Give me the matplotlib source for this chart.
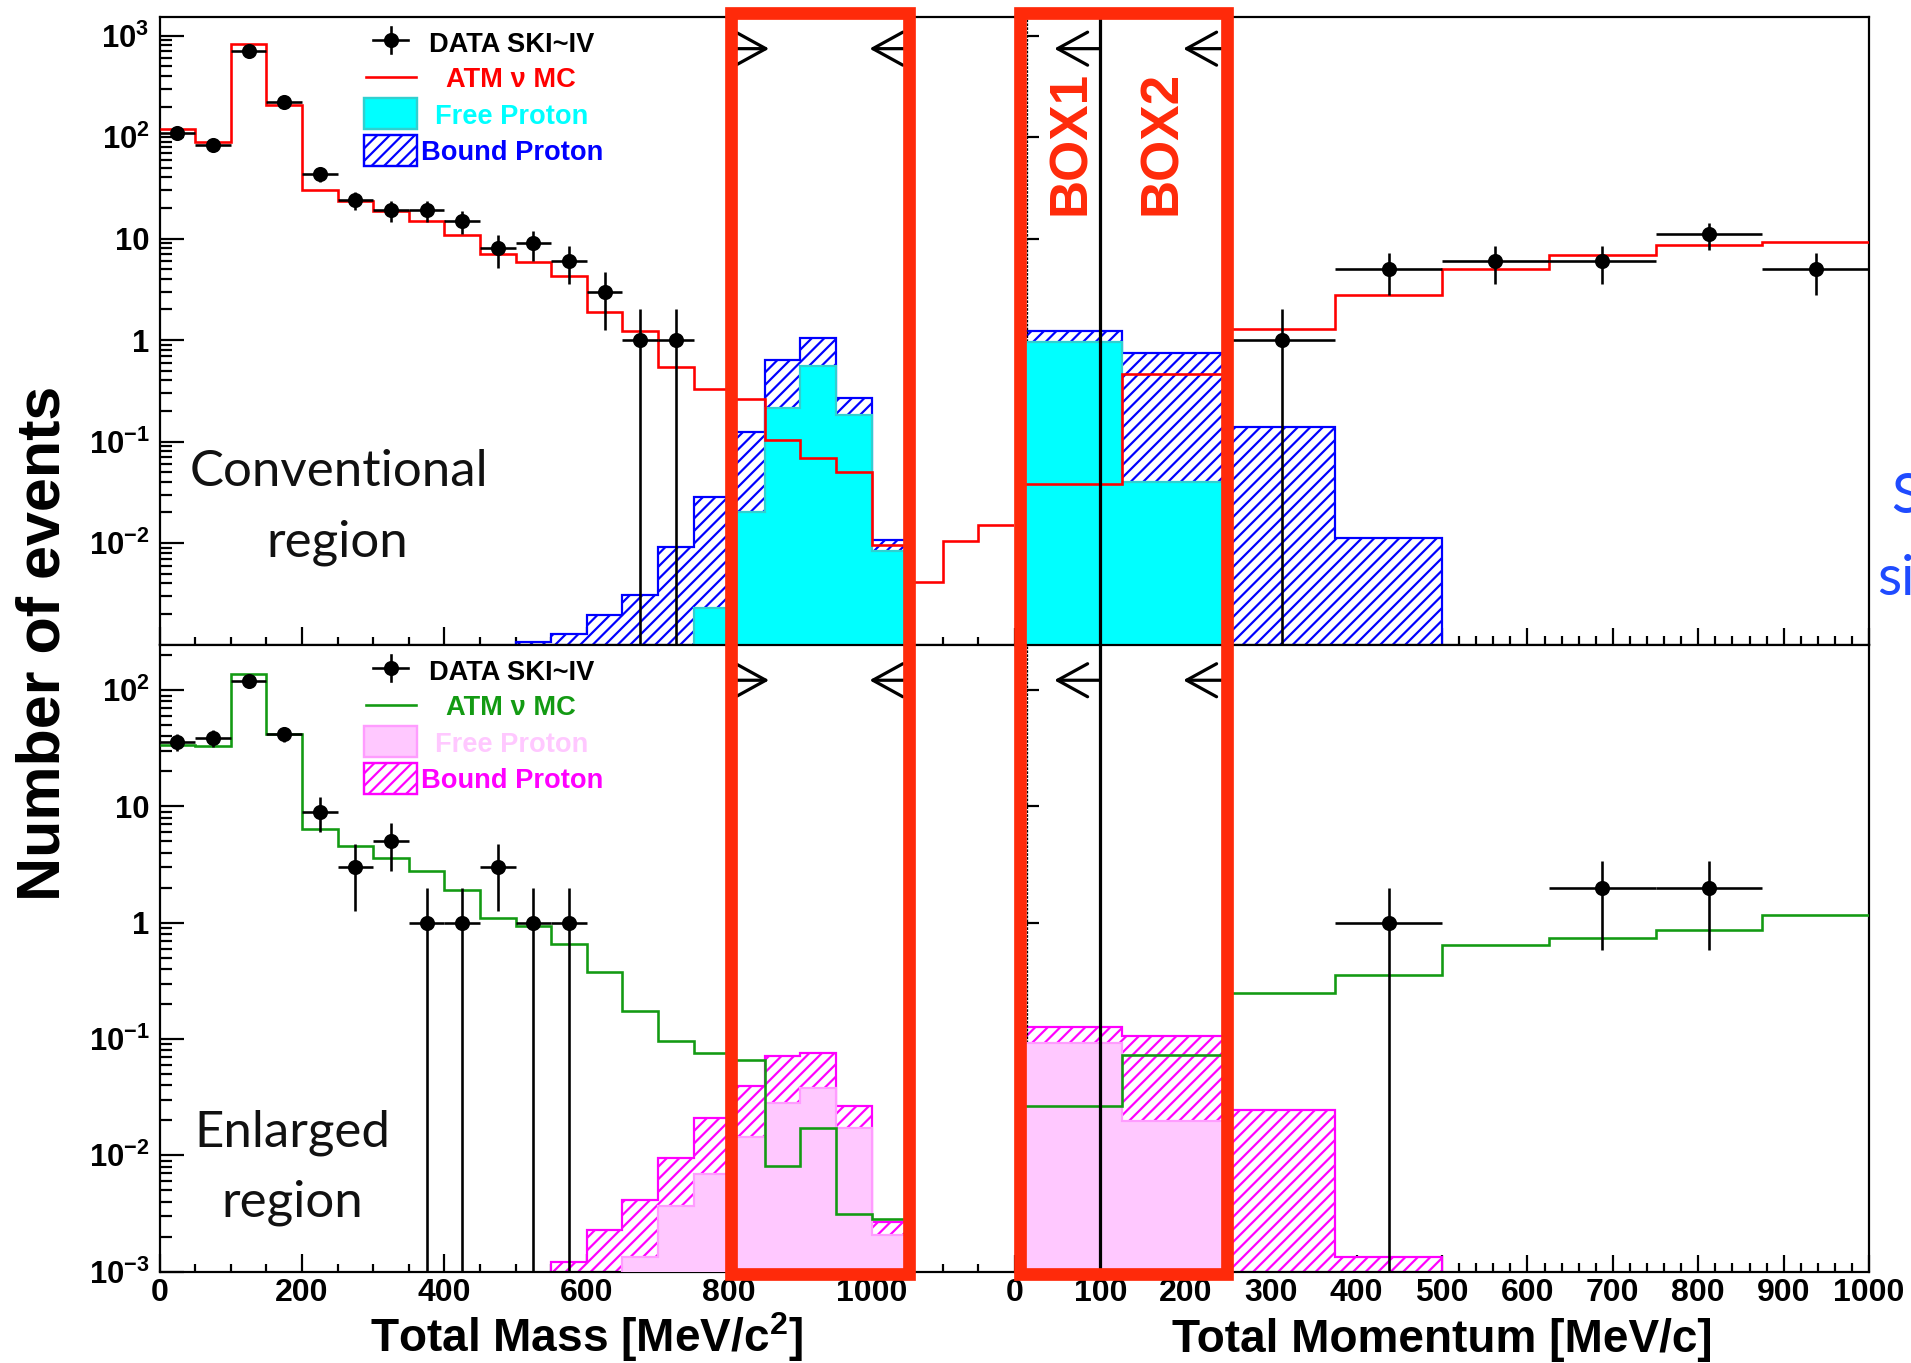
import numpy as np
import matplotlib
matplotlib.use("Agg")
import matplotlib.pyplot as plt
from matplotlib import transforms
from matplotlib.patches import Rectangle
from matplotlib.lines import Line2D
from matplotlib.ticker import FixedLocator, NullFormatter, NullLocator, LogLocator

# ---------------- data ----------------
mass_bin = 50.0      # MeV/c^2
mom_bin = 125.0      # MeV/c

# Conventional region (top row)
top_mass_mc = [120, 90, 822, 209, 30.4, 23.3, 18.8, 15.0, 10.8, 7.0, 5.9, 4.3,
               1.9, 1.24, 0.54, 0.33, 0.265, 0.104, 0.069, 0.050, 0.0096,
               0.0041, 0.0105, 0.0151]
top_mass_free_start = 750
top_mass_free = [0.0023, 0.0200, 0.213, 0.55, 0.184, 0.0083]
top_mass_total_start = 500
top_mass_total = [0.00105, 0.00126, 0.00197, 0.0031, 0.0092, 0.0284, 0.123,
                  0.63, 1.05, 0.27, 0.0106]
top_mass_data_x = [25, 75, 125, 175, 225, 275, 325, 375, 425, 475, 525, 575,
                   625, 675, 725]
top_mass_data = [109, 84, 708, 224, 43, 24, 19, 19, 15, 8, 9, 6, 3, 1, 1]

top_mom_mc = [0.038, 0.464, 1.28, 2.75, 4.97, 6.95, 8.55, 9.25]
top_mom_free = [0.95, 0.040]
top_mom_total = [1.22, 0.74, 0.14, 0.0111]
top_mom_data_x = [312.5, 437.5, 562.5, 687.5, 812.5, 937.5]
top_mom_data = [1, 5, 6, 6, 11, 5]

# Enlarged region (bottom row)
bot_mass_mc = [34, 33, 139, 41.6, 6.4, 4.6, 3.6, 2.8, 1.9, 1.10, 0.94, 0.66,
               0.376, 0.175, 0.097, 0.0757, 0.0663, 0.00815, 0.0172, 0.0031,
               0.00284]
bot_mass_free_start = 650
bot_mass_free = [0.00134, 0.00363, 0.0069, 0.0143, 0.0284, 0.038, 0.0171, 0.00206]
bot_mass_total_start = 550
bot_mass_total = [0.0012, 0.00228, 0.00414, 0.00955, 0.0209, 0.0397, 0.0709,
                  0.0766, 0.0268, 0.00269]
bot_mass_data_x = [25, 75, 125, 175, 225, 275, 325, 375, 425, 475, 525, 575]
bot_mass_data = [36, 39, 121, 42, 9, 3, 5, 1, 1, 3, 1, 1]

bot_mom_mc = [0.0263, 0.0726, 0.249, 0.353, 0.639, 0.733, 0.871, 1.17]
bot_mom_free = [0.093, 0.0197]
bot_mom_total = [0.126, 0.1066, 0.0243, 0.00133]
bot_mom_data_x = [437.5, 687.5, 812.5]
bot_mom_data = [1, 2, 2]

mass_major = [0, 200, 400, 600, 800, 1000]
mass_major_labels = ["0", "200", "400", "600", "800", "1000"]
mom_major = [0, 100, 200, 300, 400, 500, 600, 700, 800, 900, 1000]
mom_major_labels = ["0", "100", "200", "300", "400", "500", "600", "700",
                    "800", "900", "1000"]
top_yticks = [1e-2, 1e-1, 1, 10, 1e2, 1e3]
top_ylabels = ["$10^{-2}$", "$10^{-1}$", "1", "10", "$10^{2}$", "$10^{3}$"]
bot_yticks = [1e-3, 1e-2, 1e-1, 1, 10, 1e2]
bot_ylabels = ["$10^{-3}$", "$10^{-2}$", "$10^{-1}$", "1", "10", "$10^{2}$"]

# ---------------- style ----------------
DPI = 150
W, H = 1911, 1363


def pt(px):
    return px * 72.0 / DPI


def fx(px):
    return px / W


def fy(py):
    return 1.0 - py / H


RED = "#ff0000"
BOXRED = "#ff2a0a"
CYAN = "#00ffff"
CYAN_EDGE = "#30d0d0"
BLUE = "#0000ff"
GREEN = "#139a13"
PINK = "#ffc8ff"
PINK_EDGE = "#ff9cff"
MAGENTA = "#ff00ff"
HATCH = "////"

plt.rcParams.update({
    "font.family": ["Liberation Sans", "DejaVu Sans"],
    "font.weight": "bold",
    "mathtext.fontset": "custom",
    "mathtext.rm": "Liberation Sans:bold",
    "mathtext.it": "Liberation Sans:bold",
    "mathtext.bf": "Liberation Sans:bold",
    "mathtext.sf": "Liberation Sans:bold",
    "hatch.linewidth": pt(2.2),
    "axes.linewidth": pt(2.2),
})

fig = plt.figure(figsize=(W / DPI, H / DPI), dpi=DPI)
fig.patch.set_facecolor("white")

XM0, XM1 = 159.5, 1014.1
XP0, XP1 = 1015.0, 1869.1
YT0, YT1 = 17.3, 644.5
YB0, YB1 = 644.5, 1271.6


def add_ax(x0, x1, y0, y1):
    return fig.add_axes([fx(x0), fy(y1), (x1 - x0) / W, (y1 - y0) / H])


ax_tm = add_ax(XM0, XM1, YT0, YT1)
ax_tp = add_ax(XP0, XP1, YT0, YT1)
ax_bm = add_ax(XM0, XM1, YB0, YB1)
ax_bp = add_ax(XP0, XP1, YB0, YB1)

TOP_YLIM = (1e-3, 10 ** 3.18)
BOT_YLIM = (1e-3, 10 ** 2.393)


def style_mass(ax, ylim, yticks, ylabels, xlabels):
    ax.set_xlim(0, 1200)
    ax.set_yscale("log")
    ax.set_ylim(*ylim)
    ax.spines["right"].set_visible(False)
    ax.set_xticks(mass_major, labels=mass_major_labels if xlabels else [""] * len(mass_major))
    ax.xaxis.set_minor_locator(FixedLocator(np.arange(50, 1200, 50)))
    ax.set_yticks(yticks, labels=ylabels)
    ax.yaxis.set_minor_locator(LogLocator(base=10, subs=np.arange(2, 10) * 1.0, numticks=40))
    ax.yaxis.set_minor_formatter(NullFormatter())
    ax.tick_params(which="both", direction="in", width=pt(2.2), top=False, right=False)
    ax.tick_params(axis="y", which="major", length=pt(24), pad=pt(10), labelsize=pt(31))
    ax.tick_params(axis="y", which="minor", length=pt(12))
    ax.tick_params(axis="x", which="major", length=pt(18), pad=pt(6), labelsize=pt(32))
    ax.tick_params(axis="x", which="minor", length=pt(8.5))
    if not xlabels:
        ax.tick_params(axis="x", labelbottom=False)


def style_mom(ax, ylim, yticks, xlabels):
    ax.set_xlim(0, 1000)
    ax.set_yscale("log")
    ax.set_ylim(*ylim)
    ax.spines["left"].set_position(("data", 14))
    ax.spines["left"].set_linestyle((0, (1, 2)))
    ax.spines["left"].set_linewidth(pt(1.3))
    ax.set_yticks(yticks)
    ax.yaxis.set_minor_locator(NullLocator())
    ax.set_xticks(mom_major, labels=mom_major_labels if xlabels else [""] * len(mom_major))
    ax.xaxis.set_minor_locator(FixedLocator(np.arange(0, 1001, 20)))
    ax.tick_params(which="both", direction="in", width=pt(2.2), top=False, right=False)
    ax.tick_params(axis="y", which="major", length=pt(12), labelleft=False)
    ax.tick_params(axis="x", which="major", length=pt(17), pad=pt(6), labelsize=pt(32))
    ax.tick_params(axis="x", which="minor", length=pt(9))
    if not xlabels:
        ax.tick_params(axis="x", labelbottom=False)


style_mass(ax_tm, TOP_YLIM, top_yticks, top_ylabels, False)
style_mass(ax_bm, BOT_YLIM, bot_yticks, bot_ylabels, True)
style_mom(ax_tp, TOP_YLIM, [1e-2, 1e-1, 1, 10, 1e2, 1e3], False)
style_mom(ax_bp, BOT_YLIM, [1e-2, 1e-1, 1, 10, 1e2], True)


def edges(start, width, n):
    return start + width * np.arange(n + 1)


def draw_hists(ax, mc, mc_start, width, mc_color, total, total_start, free, free_start,
               hatch_color, free_face, free_edge):
    ax.stairs(total, edges(total_start, width, len(total)), fill=True, baseline=1e-7,
              facecolor="white", edgecolor=hatch_color, hatch=HATCH, linewidth=pt(2.2),
              zorder=2)
    ax.stairs(free, edges(free_start, width, len(free)), fill=True, baseline=1e-7,
              facecolor=free_face, edgecolor=free_edge, linewidth=pt(2.2), zorder=3)
    ax.stairs(mc, edges(mc_start, width, len(mc)), baseline=None, color=mc_color,
              linewidth=pt(2.6), zorder=4)


def draw_data(ax, xc, counts, half):
    n = np.asarray(counts, dtype=float)
    err = np.sqrt(n)
    lo = np.where(n - err > 0, err, n - 1e-7)
    ax.errorbar(xc, n, xerr=half, yerr=[lo, err], fmt="o", color="k", ms=pt(13),
                elinewidth=pt(2.6), capsize=0, zorder=10)


draw_hists(ax_tm, top_mass_mc, 0, mass_bin, RED, top_mass_total, top_mass_total_start,
           top_mass_free, top_mass_free_start, BLUE, CYAN, CYAN_EDGE)
draw_data(ax_tm, top_mass_data_x, top_mass_data, mass_bin / 2)
draw_hists(ax_tp, top_mom_mc, 0, mom_bin, RED, top_mom_total, 0, top_mom_free, 0,
           BLUE, CYAN, CYAN_EDGE)
draw_data(ax_tp, top_mom_data_x, top_mom_data, mom_bin / 2)

draw_hists(ax_bm, bot_mass_mc, 0, mass_bin, GREEN, bot_mass_total, bot_mass_total_start,
           bot_mass_free, bot_mass_free_start, MAGENTA, PINK, PINK_EDGE)
draw_data(ax_bm, bot_mass_data_x, bot_mass_data, mass_bin / 2)
draw_hists(ax_bp, bot_mom_mc, 0, mom_bin, GREEN, bot_mom_total, 0, bot_mom_free, 0,
           MAGENTA, PINK, PINK_EDGE)
draw_data(ax_bp, bot_mom_data_x, bot_mom_data, mom_bin / 2)

# vertical cut line at 100 MeV/c
for ax in (ax_tp, ax_bp):
    ax.axvline(100, color="k", lw=pt(3.2), zorder=9)


def arrow(ax, tail, tip, yfrac):
    ax.annotate("", xy=(tip, yfrac), xytext=(tail, yfrac),
                xycoords=("data", "axes fraction"), textcoords=("data", "axes fraction"),
                arrowprops=dict(arrowstyle="->,head_length=1.0,head_width=0.55",
                                color="k", lw=pt(3.2), shrinkA=0, shrinkB=0,
                                mutation_scale=pt(30)),
                zorder=12)


for ax, yf in ((ax_tm, 0.950), (ax_bm, 0.943)):
    arrow(ax, 800, 856, yf)
    arrow(ax, 1050, 997, yf)
for ax, yf in ((ax_tp, 0.950), (ax_bp, 0.943)):
    arrow(ax, 100, 46, yf)
    arrow(ax, 250, 197, yf)


# red selection boxes
def red_box(ax, x0, x1):
    tr = transforms.blended_transform_factory(ax.transData, fig.transFigure)
    r = Rectangle((x0, fy(1274)), x1 - x0, fy(13) - fy(1274), transform=tr, fill=False,
                  edgecolor=BOXRED, lw=pt(12.7), joinstyle="miter", zorder=30)
    fig.add_artist(r)


red_box(ax_tm, 802, 1053)
red_box(ax_tp, 6, 248)

fig.text(fx(1071), fy(143), "BOX1", rotation=90, ha="center", va="center",
         color=BOXRED, fontsize=pt(53), zorder=31)
fig.text(fx(1162), fy(143), "BOX2", rotation=90, ha="center", va="center",
         color=BOXRED, fontsize=pt(53), zorder=31)

# legends
FS_LEG = pt(27.3)


def legend(dy, mc_color, free_face, free_edge, free_txt, bound_color):
    def y(v):
        return fy(v + dy)
    fig.add_artist(Line2D([fx(373), fx(408)], [y(40), y(40)], color="k", lw=pt(2.6)))
    fig.add_artist(Line2D([fx(390.7)] * 2, [y(27.3), y(52.7)], color="k", lw=pt(2.6)))
    fig.add_artist(Line2D([fx(390.7)], [y(40)], marker="o", ms=pt(13), color="k", lw=0))
    fig.text(fx(512), y(51.7), "DATA SKI~IV", ha="center", va="baseline",
             fontsize=FS_LEG, color="k")
    fig.add_artist(Line2D([fx(366), fx(415.7)], [y(76.7), y(76.7)], color=mc_color,
                          lw=pt(2.6)))
    fig.text(fx(511), y(86.7), "ATM \u03bd MC", ha="center", va="baseline",
             fontsize=FS_LEG, color=mc_color)
    fig.add_artist(Rectangle((fx(364), y(129.3)), (416.7 - 364) / W, (129.3 - 97.7) / H,
                             transform=fig.transFigure, facecolor=free_face,
                             edgecolor=free_edge, lw=pt(2.4)))
    fig.text(fx(512), y(124), "Free Proton", ha="center", va="baseline",
             fontsize=FS_LEG, color=free_txt)
    fig.add_artist(Rectangle((fx(364), y(166)), (416.7 - 364) / W, (166 - 135) / H,
                             transform=fig.transFigure, facecolor="white",
                             edgecolor=bound_color, hatch=HATCH, lw=pt(2.4)))
    fig.text(fx(512), y(160), "Bound Proton", ha="center", va="baseline",
             fontsize=FS_LEG, color=bound_color)


legend(0, RED, CYAN, CYAN_EDGE, CYAN, BLUE)
legend(628, GREEN, PINK, PINK_EDGE, "#ffc8ff", MAGENTA)

# region labels
LIGHT = dict(family=["Lato", "DejaVu Sans"], weight="normal", fontsize=pt(51), color="#111111")
fig.text(fx(339), fy(486), "Conventional", ha="center", va="baseline", **LIGHT)
fig.text(fx(337), fy(557), "region", ha="center", va="baseline", **LIGHT)
fig.text(fx(292), fy(1147), "Enlarged", ha="center", va="baseline", **LIGHT)
fig.text(fx(292), fy(1217), "region", ha="center", va="baseline", **LIGHT)

# partially visible blue text at the right edge (cut off in the reference too)
BLUETXT = dict(family=["Lato", "DejaVu Sans"], weight="normal", fontsize=pt(56),
               color="#1f4bff")
fig.text(fx(1891), fy(512), "Signal", ha="left", va="baseline", **BLUETXT)
fig.text(fx(1877), fy(595), "simulation", ha="left", va="baseline", **BLUETXT)

# axis titles
fig.text(fx(44), fy(643), "Number of events", rotation=90, ha="center", va="center",
         fontsize=pt(61))
fig.text(fx(586), fy(1352), "Total Mass [MeV/c$^{2}$]", ha="center", va="baseline",
         fontsize=pt(46))
fig.text(fx(1442), fy(1352), "Total Momentum [MeV/c]", ha="center", va="baseline",
         fontsize=pt(46))

fig.savefig("out.png", dpi=DPI, facecolor="white")
